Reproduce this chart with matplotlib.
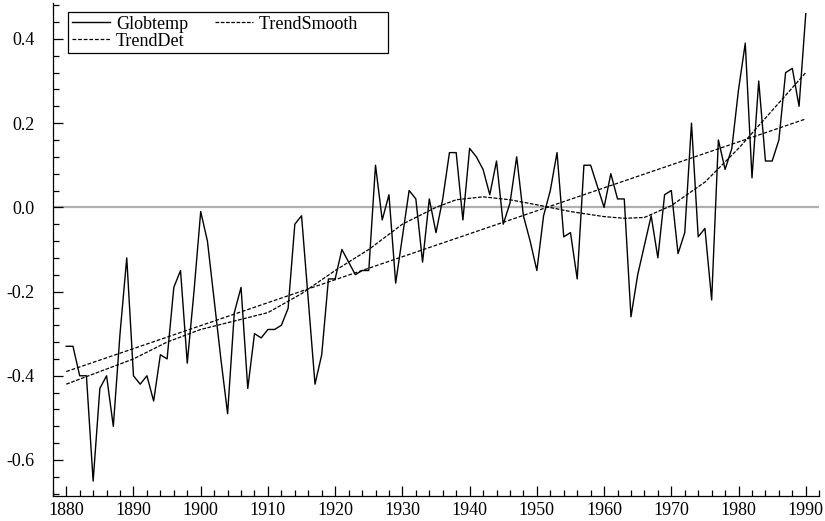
import numpy as np
import matplotlib.pyplot as plt
from matplotlib.ticker import MultipleLocator

years = np.arange(1880, 1991)
globtemp = [-0.33, -0.33, -0.40, -0.40, -0.65, -0.43, -0.40, -0.52, -0.30, -0.12,
            -0.40, -0.42, -0.40, -0.46, -0.35, -0.36, -0.19, -0.15, -0.37, -0.20,
            -0.01, -0.08, -0.22, -0.36, -0.49, -0.25, -0.19, -0.43, -0.30, -0.31,
            -0.29, -0.29, -0.28, -0.24, -0.04, -0.02, -0.22, -0.42, -0.35, -0.17,
            -0.17, -0.10, -0.13, -0.16, -0.15, -0.15, 0.10, -0.03, 0.03, -0.18,
            -0.07, 0.04, 0.02, -0.13, 0.02, -0.06, 0.02, 0.13, 0.13, -0.03,
            0.14, 0.12, 0.09, 0.03, 0.11, -0.04, 0.01, 0.12, -0.02, -0.08,
            -0.15, -0.02, 0.04, 0.13, -0.07, -0.06, -0.17, 0.10, 0.10, 0.05,
            0.00, 0.08, 0.02, 0.02, -0.26, -0.16, -0.09, -0.02, -0.12, 0.03,
            0.04, -0.11, -0.06, 0.20, -0.07, -0.05, -0.22, 0.16, 0.09, 0.14,
            0.28, 0.39, 0.07, 0.30, 0.11, 0.11, 0.16, 0.32, 0.33, 0.24,
            0.46]

smooth_years = [1880, 1885, 1890, 1895, 1900, 1905, 1910, 1915, 1920, 1925,
                1930, 1935, 1938, 1942, 1946, 1950, 1955, 1960, 1963, 1966,
                1970, 1975, 1980, 1985, 1990]
trend_smooth = [-0.42, -0.39, -0.36, -0.32, -0.29, -0.27, -0.25, -0.205, -0.15, -0.10,
                -0.04, 0.00, 0.018, 0.025, 0.018, 0.006, -0.01, -0.022, -0.026, -0.024,
                0.004, 0.06, 0.14, 0.23, 0.32]

det_years = [1880, 1990]
trend_det = [-0.39, 0.21]

plt.rcParams['font.family'] = ['Liberation Serif', 'DejaVu Serif']
fig = plt.figure(figsize=(8.25, 5.21), dpi=100)
ax = fig.add_axes([0.064, 0.048, 0.929, 0.946])

ax.axhline(0, color='#b0b0b0', lw=1.6, zorder=1)
l1, = ax.plot(years, globtemp, color='black', lw=1.0, label='Globtemp')
l2, = ax.plot(det_years, trend_det, color='black', lw=0.9,
              linestyle=(0, (3, 1.5)), label='TrendDet')
l3, = ax.plot(smooth_years, trend_smooth, color='black', lw=0.9,
              linestyle=(0, (3, 1.2)), label='TrendSmooth')

ax.set_xlim(1878, 1992)
ax.set_ylim(-0.6855, 0.485)
ax.xaxis.set_major_locator(MultipleLocator(10))
ax.xaxis.set_minor_locator(MultipleLocator(2))
ax.yaxis.set_major_locator(MultipleLocator(0.2))
ax.yaxis.set_minor_locator(MultipleLocator(0.04))
ax.yaxis.set_major_formatter(plt.FuncFormatter(lambda v, p: '%.1f' % v if abs(v) > 1e-9 else '0.0'))
ax.tick_params(which='major', direction='in', length=7, width=0.9, labelsize=13)
ax.tick_params(which='minor', direction='in', length=4, width=0.9)
ax.tick_params(axis='y', pad=13)
ax.tick_params(axis='x', pad=4)
for s in ['top', 'right']:
    ax.spines[s].set_visible(False)
for s in ['left', 'bottom']:
    ax.spines[s].set_linewidth(0.9)

# the reference box keeps some room to the right of the last label
leg = ax.legend(handles=[l1, l2, l3],
                labels=['Globtemp', 'TrendDet', 'TrendSmooth' + '\u2007' * 3],
                ncol=2, loc='upper left',
                bbox_to_anchor=(0.02, 0.982), fontsize=13, fancybox=False,
                edgecolor='black', framealpha=1, handlelength=2.1,
                handletextpad=0.35, labelspacing=0.0, borderpad=0.2,
                columnspacing=1.5, borderaxespad=0)
leg.get_frame().set_linewidth(0.9)

fig.savefig('out.png', dpi=100)
